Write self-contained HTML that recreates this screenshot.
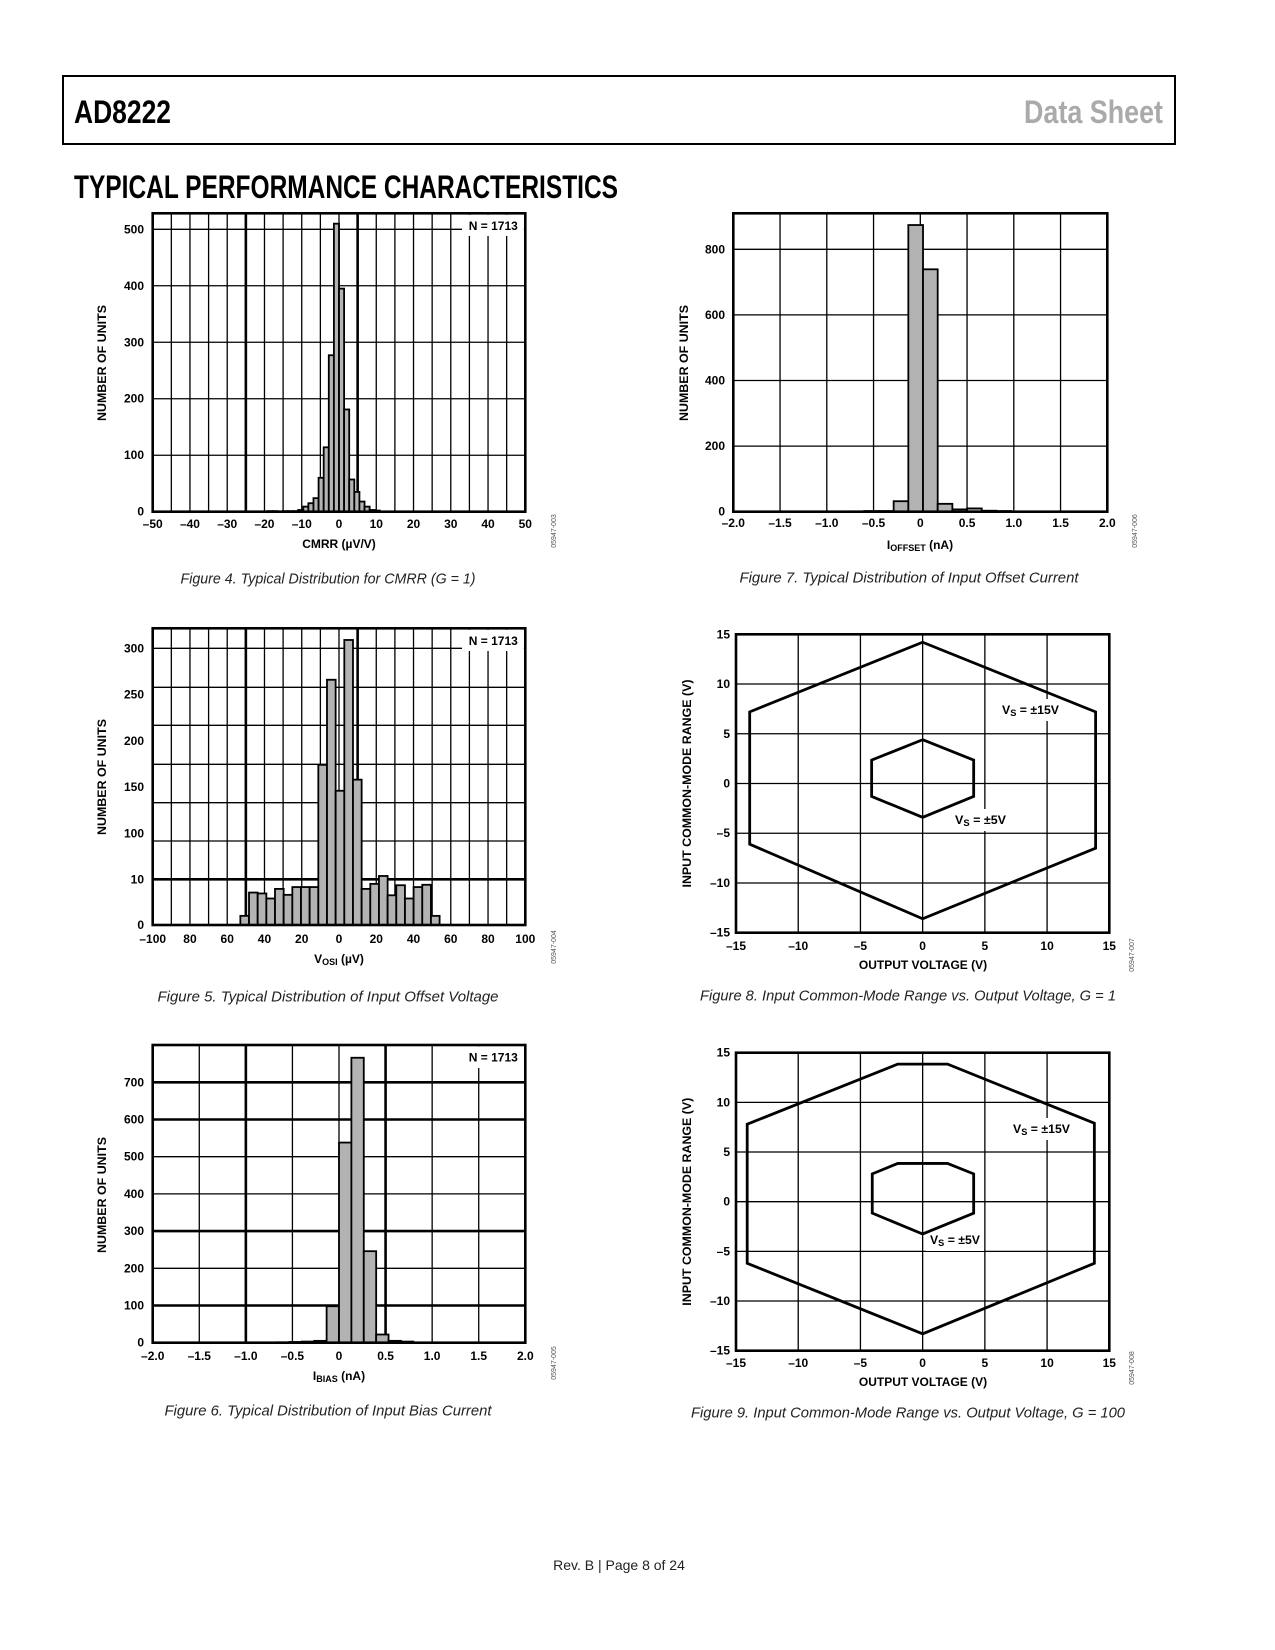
<!DOCTYPE html>
<html><head><meta charset="utf-8"><style>
html,body{margin:0;padding:0;background:#fff;}
svg{display:block;}
text{font-family:"Liberation Sans",Arial,sans-serif;}
.tk{font-size:12px;font-weight:bold;fill:#000;}
.cap{font-size:15px;font-style:italic;fill:#222;}
.code{font-size:7px;fill:#555;}
</style></head><body>
<svg id="page" xmlns="http://www.w3.org/2000/svg" width="1275" height="1650" viewBox="0 0 1275 1650">
<rect x="63" y="76" width="1112" height="68" fill="none" stroke="#000" stroke-width="2"/>
<text x="74" y="123" font-size="32" font-weight="bold" textLength="97" lengthAdjust="spacingAndGlyphs">AD8222</text>
<text x="1163" y="123" font-size="32" font-weight="bold" fill="#aaa" text-anchor="end" textLength="139" lengthAdjust="spacingAndGlyphs">Data Sheet</text>
<text x="74" y="198" font-size="32" font-weight="bold" textLength="544" lengthAdjust="spacingAndGlyphs">TYPICAL PERFORMANCE CHARACTERISTICS</text>
<text x="619" y="1570" font-size="14" text-anchor="middle" fill="#222">Rev. B | Page 8 of 24</text>
</svg>
<script>
// ---------- DATA ----------
// Figure 4: CMRR histogram
const cmrrBinStarts=[-19.18,-17.81,-16.44,-15.07,-13.7,-12.33,-10.96,-9.59,-8.22,-6.85,-5.48,-4.11,-2.74,-1.37,0,1.37,2.74,4.11,5.48,6.85,8.22,9.59];
const cmrrCounts=[1,1,0,1,1,1,3,9,15,24,60,114,277,510,395,181,57,35,18,9,3,2];
const cmrrXTicks=[-50,-40,-30,-20,-10,0,10,20,30,40,50];
const cmrrYTicks=[0,100,200,300,400,500];
// Figure 5: VOSI histogram
const vosBinStarts=[-52.95,-48.3,-43.65,-39,-34.35,-29.7,-25.05,-20.4,-15.75,-11.1,-6.45,-1.8,2.85,7.5,12.15,16.8,21.45,26.1,30.75,35.4,40.05,44.7,49.35];
const vosCounts=[2,7.1,6.9,5.8,7.9,6.6,8.3,8.3,8.3,174,266,146,309,158,7.9,9,16.5,6.5,8.7,5.8,8.3,8.8,2];
const vosXTicks=[-100,-80,-60,-40,-20,0,20,40,60,80,100];
const vosXTickLabels=["–100","80","60","40","20","0","20","40","60","80","100"];
const vosYTicks=[0,10,100,150,200,250,300];
// Figure 6: IBIAS histogram
const biasBinStarts=[-0.665,-0.532,-0.399,-0.266,-0.133,0,0.133,0.266,0.399,0.532,0.665];
const biasCounts=[1,2,3,5,98,538,766,246,22,5,3];
const biasXTicks=[-2,-1.5,-1,-0.5,0,0.5,1,1.5,2];
const biasXTickLabels=["–2.0","–1.5","–1.0","–0.5","0","0.5","1.0","1.5","2.0"];
const biasYTicks=[0,100,200,300,400,500,600,700];
// Figure 7: IOFFSET histogram
const offBinStarts=[-0.756,-0.599,-0.442,-0.285,-0.128,0.029,0.186,0.343,0.5,0.657,0.814];
const offCounts=[1,2,2,32,874,739,24,7,10,3,2];
const offXTicks=[-2,-1.5,-1,-0.5,0,0.5,1,1.5,2];
const offXTickLabels=["–2.0","–1.5","–1.0","–0.5","0","0.5","1.0","1.5","2.0"];
const offYTicks=[0,200,400,600,800];
// Figure 8: CM range G=1
const g1OuterX=[0,13.9,13.9,0,-13.9,-13.9];
const g1OuterY=[14.2,7.2,-6.5,-13.6,-6.1,7.2];
const g1InnerX=[0,4.1,4.1,0,-4.1,-4.1];
const g1InnerY=[4.4,2.35,-1.3,-3.4,-1.3,2.35];
// Figure 9: CM range G=100
const g100OuterX=[-2,2,13.8,13.8,0,-14.1,-14.1];
const g100OuterY=[13.85,13.85,7.9,-6.2,-13.3,-6.2,7.8];
const g100InnerX=[-2,2,4.1,4.1,0,-4.05,-4.05];
const g100InnerY=[3.85,3.85,2.8,-1.15,-3.25,-1.15,2.8];
const cmTicks=[-15,-10,-5,0,5,10,15];
const cmTickLabels=["–15","–10","–5","0","5","10","15"];

// ---------- HELPERS ----------
const NS='http://www.w3.org/2000/svg';
const svg=document.getElementById('page');
function mk(tag,attrs,parent){const e=document.createElementNS(NS,tag);for(const k in attrs)e.setAttribute(k,attrs[k]);(parent||svg).appendChild(e);return e;}
function linear(d0,d1,r0,r1){return v=>r0+(v-d0)*(r1-r0)/(d1-d0);}
function piece(dom,rng){return v=>{for(let i=0;i<dom.length-1;i++){if(v<=dom[i+1]||i===dom.length-2){return rng[i]+(v-dom[i])*(rng[i+1]-rng[i])/(dom[i+1]-dom[i]);}}};}
function line(g,x1,y1,x2,y2,w){return mk('line',{x1:x1,y1:y1,x2:x2,y2:y2,stroke:'#000','stroke-width':w},g);}
function label(g,x,y,s,anchor,cls){const t=mk('text',{x:x,y:y,'text-anchor':anchor||'middle','dominant-baseline':'central',class:cls||'tk'},g);t.textContent=s;return t;}

function frame(g,L,T,R,B){const r=mk('rect',{x:L,y:T,width:R-L,height:B-T,fill:'none',stroke:'#000','stroke-width':2.6},g);

}

function yTitle(g,x,cy,s,len){const t=mk('text',{x:x,y:cy,'text-anchor':'middle','dominant-baseline':'central',class:'tk',transform:'rotate(-90 '+x+' '+cy+')',textLength:len,lengthAdjust:'spacingAndGlyphs'},g);t.textContent=s;

}

function caption(x,y,s,len){const t=mk('text',{x:x,y:y,'text-anchor':'middle','dominant-baseline':'central',class:'cap',textLength:len,lengthAdjust:'spacingAndGlyphs'});t.textContent=s;

}

function code(x,y,s){const t=mk('text',{x:x,y:y,'text-anchor':'middle',class:'code',transform:'rotate(-90 '+x+' '+y+')'});t.textContent=s;

}

function nBox(g,x0,y0,R,yT){const r=mk('rect',{x:x0,y:y0,width:R-x0,height:yT-y0,fill:'#fff'},g);


const t=label(g,R-6,y0+11,'N = 1713','end');

}

function bars(g,starts,w,counts,xs,ys){const y0=ys(0);for(let i=0;i<starts.length;i++){if(counts[i]<=0)continue;const xa=xs(starts[i]),xb=xs(starts[i]+w),yt=ys(counts[i]);
const b=mk('rect',{x:xa,y:yt,width:xb-xa,height:y0-yt,fill:'#b3b3b3',stroke:'#000','stroke-width':1.8},g);

}}

// ---------- FIGURE 4 ----------
(function(){const L=152.7,R=525.3,T=213.3,B=511.7;const g=mk('g',{});


const xs=linear(-50,50,L,R), ys=linear(0,500,B,229.3);
for(let v=-45;v<50;v+=5){line(g,xs(v),T,xs(v),B,(v===-25||v===5)?2.6:1.3);}
for(const v of cmrrYTicks){if(v>0)line(g,L,ys(v),R,ys(v),1.3);}
nBox(g,462,T+1.5,R-1.5,236);
bars(g,cmrrBinStarts,1.37,cmrrCounts,xs,ys);
frame(g,L,T,R,B);
for(const v of cmrrYTicks){const t=label(g,144,ys(v),String(v),'end');}
for(const v of cmrrXTicks){const t=label(g,xs(v),524,v<0?'–'+(-v):String(v));}
const xt=label(g,339,544,'CMRR (µV/V)');
yTitle(g,102,363,'NUMBER OF UNITS',116);
})();
caption(328,579,'Figure 4. Typical Distribution for CMRR (G = 1)',295);
code(556,531,'05947-003');

// ---------- FIGURE 5 ----------
(function(){const L=152.7,R=525.3,T=628.3,B=925;const g=mk('g',{});


const xs=linear(-100,100,L,R), ys=piece([0,10,100,300],[925,879.3,833.3,648.3]);
for(let v=-90;v<100;v+=10){line(g,xs(v),T,xs(v),B,(v===-50||v===10)?2.6:1.3);}
const gridYs=[648.3,687.3,725.3,764.3,802.7,841,879.3];
gridYs.forEach((y,i)=>line(g,L,y,R,y,i===6?2.6:1.3));
nBox(g,462,T+1.5,R-1.5,651);
bars(g,vosBinStarts,4.65,vosCounts,xs,ys);
frame(g,L,T,R,B);
for(const v of vosYTicks){const t=label(g,144,ys(v),String(v),'end');}
vosXTicks.forEach((v,i)=>{const t=label(g,xs(v),939,vosXTickLabels[i]);});
const xt=mk('text',{x:339,y:959,'text-anchor':'middle','dominant-baseline':'central',class:'tk'},g);
xt.innerHTML='V<tspan font-size="9" dy="3">OSI</tspan><tspan dy="-3"> (µV)</tspan>';

yTitle(g,102,777,'NUMBER OF UNITS',116);
})();
caption(328,997,'Figure 5. Typical Distribution of Input Offset Voltage',341);
code(556,947,'05947-004');

// ---------- FIGURE 6 ----------
(function(){const L=152.7,R=525.3,T=1045,B=1342.7;const g=mk('g',{});


const xs=linear(-2,2,L,R), ys=linear(0,700,B,1082.3);
for(const v of biasXTicks){if(v>-2&&v<2)line(g,xs(v),T,xs(v),B,(v===-1||v===0.5)?2.6:1.3);}
for(const v of biasYTicks){if(v>0)line(g,L,ys(v),R,ys(v),(v===700||v===600||v===300||v===100)?2.6:1.3);}
nBox(g,462,T+1.5,R-1.5,1068);
bars(g,biasBinStarts,0.133,biasCounts,xs,ys);
frame(g,L,T,R,B);
for(const v of biasYTicks){const t=label(g,144,ys(v),String(v),'end');}
biasXTicks.forEach((v,i)=>{const t=label(g,xs(v),1356,biasXTickLabels[i]);});
const xt=mk('text',{x:339,y:1376,'text-anchor':'middle','dominant-baseline':'central',class:'tk'},g);
xt.innerHTML='I<tspan font-size="9" dy="3">BIAS</tspan><tspan dy="-3"> (nA)</tspan>';

yTitle(g,102,1195,'NUMBER OF UNITS',116);
})();
caption(328,1411,'Figure 6. Typical Distribution of Input Bias Current',327);
code(556,1363,'05947-005');

// ---------- FIGURE 7 ----------
(function(){const L=733.3,R=1107.3,T=213.3,B=511.7;const g=mk('g',{});


const xs=linear(-2,2,L,R), ys=linear(0,800,B,249.3);
for(const v of offXTicks){if(v>-2&&v<2)line(g,xs(v),T,xs(v),B,1.3);}
for(const v of offYTicks){if(v>0)line(g,L,ys(v),R,ys(v),1.3);}
bars(g,offBinStarts,0.157,offCounts,xs,ys);
frame(g,L,T,R,B);
for(const v of offYTicks){const t=label(g,725,ys(v),String(v),'end');}
offXTicks.forEach((v,i)=>{const t=label(g,xs(v),523,offXTickLabels[i]);});
const xt=mk('text',{x:920,y:545,'text-anchor':'middle','dominant-baseline':'central',class:'tk'},g);
xt.innerHTML='I<tspan font-size="9" dy="3">OFFSET</tspan><tspan dy="-3"> (nA)</tspan>';

yTitle(g,684,363,'NUMBER OF UNITS',116);
})();
caption(909,578,'Figure 7. Typical Distribution of Input Offset Current',339);
code(1137,531,'05947-006');

// ---------- FIGURES 8 & 9 ----------
function cmChart(name,T,B,ox,oy,ix,iy,lab15,lab5,xtY,ttlY){const L=736,R=1109.3;const g=mk('g',{});


const xs=linear(-15,15,L,R), ys=linear(-15,15,B,T);
for(const v of cmTicks){if(v>-15&&v<15){line(g,xs(v),T,xs(v),B,1.3);line(g,L,ys(v),R,ys(v),1.3);}}
[[lab15,'V','S',' = ±15V','vs15-label'],[lab5,'V','S',' = ±5V','vs5-label']].forEach(a=>{
const bg=mk('rect',{x:a[0][0]-4,y:a[0][1]-11,width:a[0][2]+8,height:22,fill:'#fff'},g);

const t=mk('text',{x:a[0][0],y:a[0][1],'dominant-baseline':'central',class:'tk',textLength:a[0][2],lengthAdjust:'spacingAndGlyphs'},g);
t.innerHTML='V<tspan font-size="9" dy="3">S</tspan><tspan dy="-3">'+a[3]+'</tspan>';

});
const po=mk('polygon',{points:ox.map((x,i)=>xs(x)+','+ys(oy[i])).join(' '),fill:'none',stroke:'#000','stroke-width':2.8,'stroke-linejoin':'miter'},g);


const pi=mk('polygon',{points:ix.map((x,i)=>xs(x)+','+ys(iy[i])).join(' '),fill:'none',stroke:'#000','stroke-width':2.8},g);


frame(g,L,T,R,B);
cmTicks.forEach((v,i)=>{const t=label(g,730,ys(v),cmTickLabels[i],'end');
const u=label(g,xs(v),xtY,cmTickLabels[i]);});
const xt=label(g,923,ttlY,'OUTPUT VOLTAGE (V)');
yTitle(g,687,(T+B)/2,'INPUT COMMON-MODE RANGE (V)',208);}
cmChart('cm-range-g1-chart',634.3,932.7,g1OuterX,g1OuterY,g1InnerX,g1InnerY,[1002,710,57],[955,820,51],946,965);
caption(908,996,'Figure 8. Input Common-Mode Range vs. Output Voltage, G = 1',416);
code(1134,955,'05947-007');
cmChart('cm-range-g100-chart',1052.7,1350.7,g100OuterX,g100OuterY,g100InnerX,g100InnerY,[1013,1129,57],[930,1240,50],1363,1382);
caption(908,1413,'Figure 9. Input Common-Mode Range vs. Output Voltage, G = 100',434);
code(1134,1368,'05947-008');
</script>
</body></html>
